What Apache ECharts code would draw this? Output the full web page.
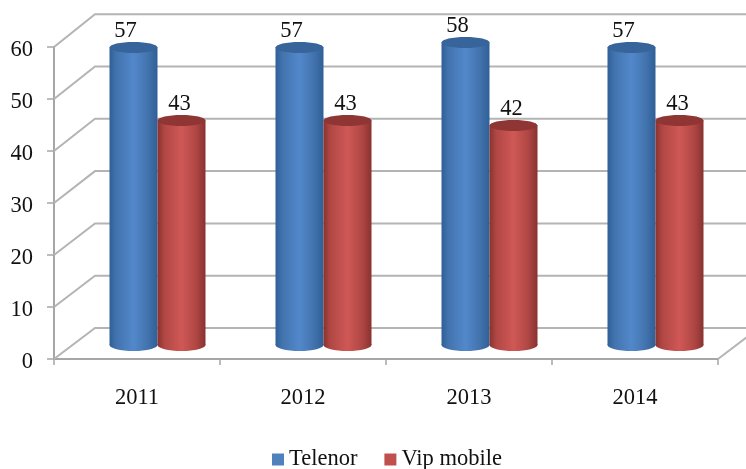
<!DOCTYPE html>
<html><head><meta charset="utf-8">
<style>html,body{margin:0;padding:0;background:#fff}#c{width:746px;height:469px}</style>
<script src="https://cdn.jsdelivr.net/npm/echarts@6/dist/echarts.min.js"></script>
</head><body><div id="c"></div>
<script>
const categories = ['2011','2012','2013','2014'];
const telenor = [57,57,58,57];
const vipMobile = [43,43,42,43];
const wallTicks = [0,10,20,30,40,50,60];
const FONT = '"Liberation Serif","Times New Roman",serif';
const FS = 22.5;
const DEPTH_X = 41, DEPTH_Y = 31;
const BAR_W = 48, RY = 6;
const chart = echarts.init(document.getElementById('c'), null, {renderer:'canvas'});

function hGrad(a,b,c){
  return {type:'linear',x:0,y:0,x2:1,y2:0,colorStops:[
    {offset:0,color:a},{offset:0.14,color:b},{offset:0.5,color:c},{offset:0.8,color:b},{offset:1,color:a}]};
}
function cylinderSeries(name, values, side, solid, grad, topCol, labelDx){
  return {
    name, type:'custom', coordinateSystem:'cartesian2d', clip:false, z:5,
    itemStyle:{color:solid},
    data: values.map((v,i)=>[i,v]),
    renderItem(params, api){
      const i = api.value(0), v = api.value(1);
      const c = api.coord([i,0]), t = api.coord([i,v]);
      const cx = c[0] + DEPTH_X*0.5 + side*BAR_W/2;
      const by = c[1] - 14, ty = t[1] - 15;
      return {type:'group', children:[
        {type:'ellipse', shape:{cx,cy:by,rx:BAR_W/2,ry:RY}, style:{fill:grad}},
        {type:'rect', shape:{x:cx-BAR_W/2,y:ty,width:BAR_W,height:by-ty}, style:{fill:grad}},
        {type:'ellipse', shape:{cx,cy:ty,rx:BAR_W/2,ry:RY-0.5}, style:{fill:topCol}},
        {type:'text', style:{text:String(v), x:cx+labelDx, y:ty-16.5, align:'center', verticalAlign:'middle',
          font:FS+'px '+FONT, fill:'#111'}}
      ]};
    }
  };
}
const wallSeries = {
  type:'custom', coordinateSystem:'cartesian2d', clip:false, z:1, silent:true,
  data: wallTicks.map(v=>[0,v]),
  renderItem(params, api){
    const v = api.value(1);
    const p = api.coord([0,v]);
    const band = api.size([1,0])[0];
    const x0 = p[0]-band/2, y0 = p[1];
    const x1 = x0+DEPTH_X, y1 = y0-DEPTH_Y - v*0.03;
    const endX = x0 + band*categories.length + DEPTH_X;
    const kids = [{type:'polyline', shape:{points:[[x0,y0],[x1,y1],[endX,y1]]},
      style:{stroke:'#b4b4b4',lineWidth:2,fill:null}}];
    if(v===0){
      const rx = x0 + band*categories.length;
      kids.push({type:'line', shape:{x1:rx,y1:y0,x2:rx+DEPTH_X,y2:y1},
        style:{stroke:'#b4b4b4',lineWidth:2}});
    }
    return {type:'group',children:kids};
  }
};
chart.setOption({
  animation:false,
  backgroundColor:'#fff',
  grid:{left:54,right:28,top:47,bottom:110,containLabel:false},
  legend:{
    left:272, top:448, padding:0, icon:'rect', itemWidth:12, itemHeight:12, itemGap:27,
    data:['Telenor','Vip mobile'],
    textStyle:{fontFamily:FONT,fontSize:FS,color:'#111'}
  },
  xAxis:{
    type:'category', data:categories, boundaryGap:true,
    axisLine:{show:true,lineStyle:{color:'#a6a6a6',width:2}},
    axisTick:{show:true,alignWithLabel:false,length:6,inside:false,lineStyle:{color:'#a6a6a6',width:1.5}},
    axisLabel:{margin:28,fontFamily:FONT,fontSize:FS,color:'#111'},
    splitLine:{show:false}
  },
  yAxis:{
    type:'value', min:0, max:60, interval:10,
    axisLine:{show:true,lineStyle:{color:'#a6a6a6',width:2}},
    axisTick:{show:true,length:7,lineStyle:{color:'#a6a6a6',width:1.5}},
    axisLabel:{margin:21,verticalAlign:'top',lineHeight:6,fontFamily:FONT,fontSize:FS,color:'#111'},
    splitLine:{show:false}
  },
  series:[
    wallSeries,
    cylinderSeries('Telenor', telenor, -1, '#4f81bd', hGrad('#2f5f96','#4273ad','#5288cb'), '#37659b', -8),
    cylinderSeries('Vip mobile', vipMobile, 1, '#c0504d', hGrad('#893230','#b04744','#cf5855'), '#8f3533', -2)
  ]
});
</script></body></html>
